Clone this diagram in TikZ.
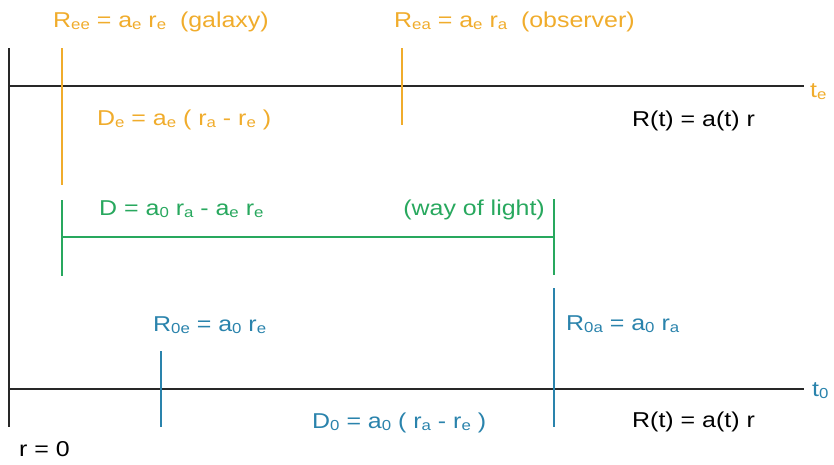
\documentclass[tikz,border=0pt]{standalone}
\usepackage{fontspec}
\setmainfont{Liberation Sans}[FakeStretch=1.16]
\definecolor{cor}{RGB}{240,172,44}
\definecolor{cgr}{RGB}{40,168,94}
\definecolor{cbl}{RGB}{42,131,172}
\definecolor{cbk}{RGB}{40,40,40}
\newcommand\lo[1]{{\fontsize{14.5}{14.5}\selectfont\raisebox{-0.35ex}{#1}}}
\tikzset{
  txt/.style={anchor=base west,inner sep=0pt,font=\fontsize{21.5}{24}\selectfont},
  axisline/.style={draw=cbk,line width=1.3pt},
  orline/.style={draw=cor,line width=1.1pt},
  grline/.style={draw=cgr,line width=1.1pt},
  blline/.style={draw=cbl,line width=1.1pt}
}
\begin{document}
\begin{tikzpicture}[x=1pt,y=-1pt]
\useasboundingbox (0,0) rectangle (834,464);
% coordinates
\coordinate (axT) at (9,48);
\coordinate (axB) at (9,427);
\coordinate (teL) at (9,86);
\coordinate (teR) at (804,86);
\coordinate (t0L) at (9,389);
\coordinate (t0R) at (804,389);
\coordinate (gT) at (62,48);
\coordinate (gB) at (62,185);
\coordinate (oT) at (402,48);
\coordinate (oB) at (402,125);
\coordinate (gl1T) at (62,200);
\coordinate (gl1B) at (62,276);
\coordinate (gl2T) at (554,199);
\coordinate (gl2B) at (554,275);
\coordinate (ghL) at (62,237);
\coordinate (ghR) at (554,237);
\coordinate (b1T) at (161,351);
\coordinate (b1B) at (161,427);
\coordinate (b2T) at (554,288);
\coordinate (b2B) at (554,427);
% lines
\draw[axisline] (axT) -- (axB);
\draw[axisline] (teL) -- (teR);
\draw[axisline] (t0L) -- (t0R);
\draw[orline] (gT) -- (gB);
\draw[orline] (oT) -- (oB);
\draw[grline] (gl1T) -- (gl1B);
\draw[grline] (gl2T) -- (gl2B);
\draw[grline] (ghL) -- (ghR);
\draw[blline] (b1T) -- (b1B);
\draw[blline] (b2T) -- (b2B);
% texts
\node[txt,text=cor] (ree) at (53,27) {R\lo{ee} = a\lo{e} r\lo{e} \ (galaxy)};
\node[txt,text=cor] (rea) at (394,27) {R\lo{ea} = a\lo{e} r\lo{a} \ (observer)};
\node[txt,text=cor] (te) at (810,97) {t\lo{e}};
\node[txt,text=cor] (de) at (97,125) {D\lo{e} = a\lo{e} ( r\lo{a} - r\lo{e} )};
\node[txt,text=black] (rt1) at (632,126) {R(t) = a(t) r};
\node[txt,text=cgr] (dd) at (99,215) {D = a\lo{0} r\lo{a} - a\lo{e} r\lo{e}};
\node[txt,text=cgr,anchor=base east] (way) at (545,215) {(way of light)};
\node[txt,text=cbl] (r0e) at (153,331) {R\lo{0e} = a\lo{0} r\lo{e}};
\node[txt,text=cbl] (r0a) at (566,330) {R\lo{0a} = a\lo{0} r\lo{a}};
\node[txt,text=cbl] (t0) at (812,396) {t\lo{0}};
\node[txt,text=cbl] (d0) at (312,428) {D\lo{0} = a\lo{0} ( r\lo{a} - r\lo{e} )};
\node[txt,text=black] (rt2) at (632,427) {R(t) = a(t) r};
\node[txt,text=black] (r0) at (19,456) {r = 0};
\end{tikzpicture}
\end{document}
